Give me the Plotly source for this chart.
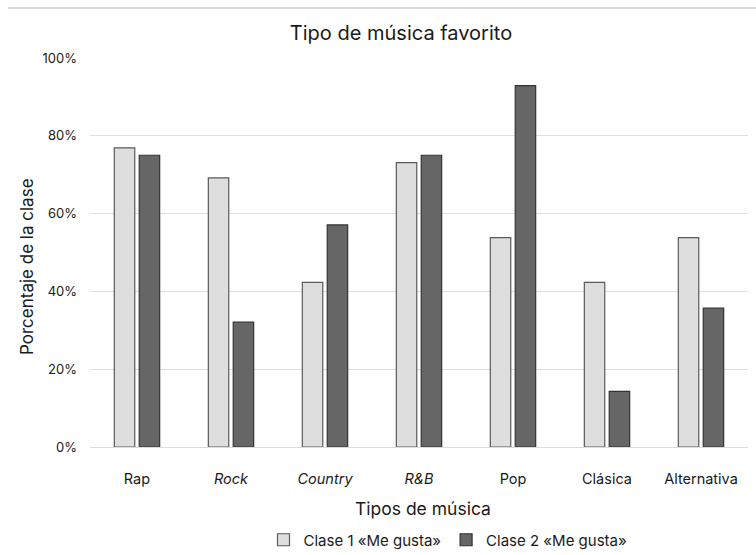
import plotly.graph_objects as go

# Tipos de música y porcentaje de alumnos a quienes les gusta cada uno
categorias = ["Rap", "<i>Rock</i>", "<i>Country</i>", "<i>R&B</i>", "Pop", "Clásica", "Alternativa"]
clase1 = [0.769, 0.692, 0.423, 0.731, 0.538, 0.423, 0.538]
clase2 = [0.750, 0.321, 0.571, 0.750, 0.929, 0.143, 0.357]
nombres = ["Clase 1 «Me gusta»", "Clase 2 «Me gusta»"]
marcas_y = [0, 0.2, 0.4, 0.6, 0.8, 1.0]

FUENTE = "Inter, Lato, sans-serif"
TEXTO = "#1a1a1a"

# área de trazado en píxeles (izquierda, derecha, arriba, abajo)
IZQ, DER, ARR, ABA = 90, 748, 58, 447
ANCHO, ALTO = DER - IZQ, ABA - ARR


def px_x(px):
    return (px - IZQ) / ANCHO


def px_y(py):
    return (ABA - py) / ALTO


fig = go.Figure()
fig.add_trace(go.Bar(
    x=categorias, y=clase1, name=nombres[0],
    marker=dict(color="#dedede", line=dict(color="#5a5a5a", width=1.2)),
))
fig.add_trace(go.Bar(
    x=categorias, y=clase2, name=nombres[1],
    marker=dict(color="#666666", line=dict(color="#333333", width=1.2)),
))

fig.update_layout(
    width=756, height=555,
    margin=dict(l=IZQ, r=756 - DER, t=ARR, b=555 - ABA, autoexpand=False),
    paper_bgcolor="white", plot_bgcolor="white",
    font=dict(family=FUENTE, color=TEXTO, size=13),
    barmode="group", bargap=0.47, bargroupgap=0.18,
    title=dict(text="Tipo de música favorito", x=px_x(401), xref="paper", xanchor="center",
               y=1 - 33 / 555, yref="container", yanchor="middle",
               font=dict(size=20, color=TEXTO)),
    xaxis=dict(showgrid=False, showline=False, zeroline=False,
               ticks="", ticklabelstandoff=21, tickfont=dict(size=14.5)),
    yaxis=dict(range=[0, 1], tickvals=marcas_y, tickformat=".0%",
               showgrid=True, gridcolor="#e0e0e0", gridwidth=1.2,
               zeroline=True, zerolinecolor="#dcdcdc", zerolinewidth=1.2,
               showline=False, ticks="", ticklabelstandoff=12,
               tickfont=dict(size=13)),
    showlegend=True,
    legend=dict(orientation="h", x=px_x(448), xanchor="center", y=px_y(540), yanchor="middle",
                font=dict(size=15), traceorder="normal", itemwidth=30),
    annotations=[
        dict(text="Tipos de música", xref="paper", yref="paper",
             x=px_x(423), y=px_y(508), xanchor="center", yanchor="middle",
             showarrow=False, font=dict(size=17.5, color=TEXTO)),
        dict(text="Porcentaje de la clase", xref="paper", yref="paper",
             x=px_x(27), y=px_y(267), xanchor="center", yanchor="middle",
             textangle=-90, showarrow=False, font=dict(size=17, color=TEXTO)),
    ],
    shapes=[
        dict(type="line", xref="paper", yref="paper",
             x0=px_x(8), x1=px_x(756), y0=px_y(8), y1=px_y(8),
             line=dict(color="#d9d9d9", width=2)),
    ],
)

fig.write_html("out.html")
